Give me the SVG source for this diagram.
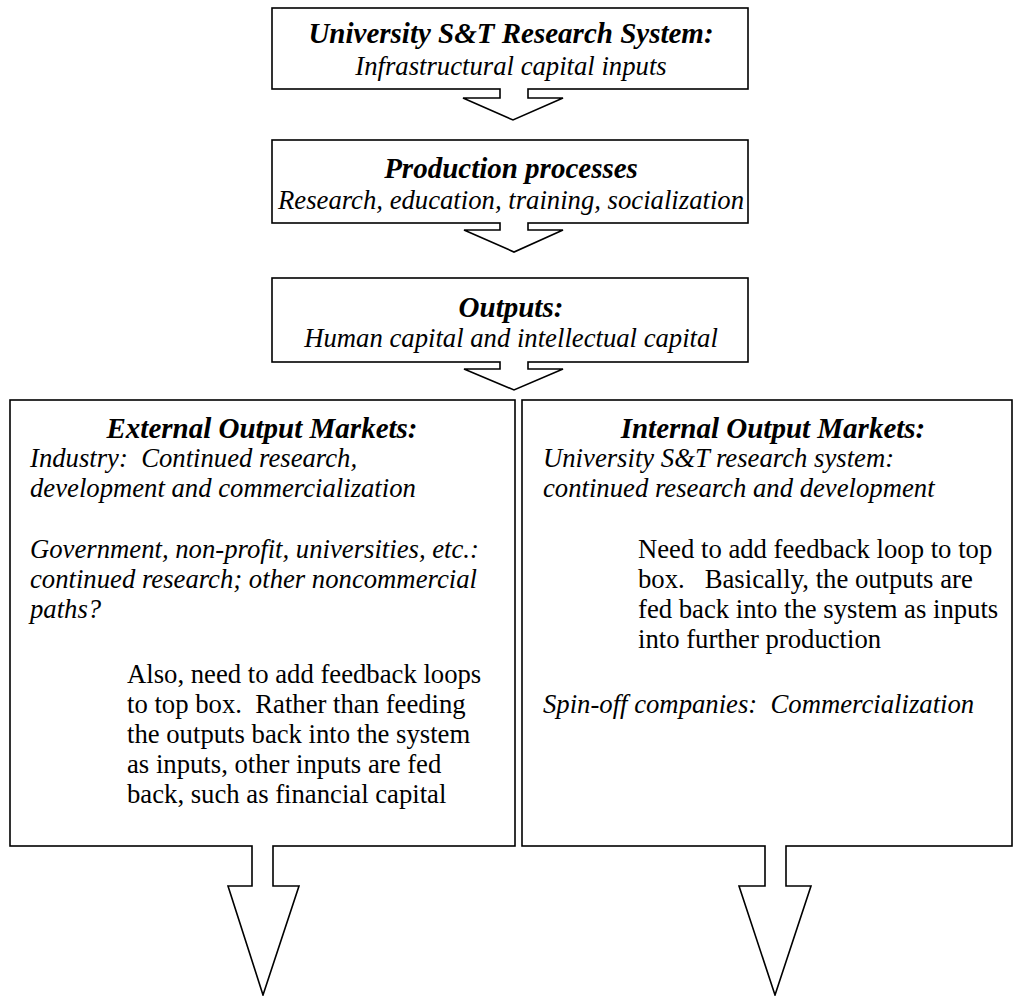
<svg xmlns="http://www.w3.org/2000/svg" width="1014" height="996" viewBox="0 0 1014 996">
<style>
.box{fill:#fff;stroke:#000;stroke-width:1.6}
.arr{fill:#fff;stroke:#000;stroke-width:1.6;stroke-linejoin:miter}
.cover{fill:#fff;stroke:none}
text{font-family:"Liberation Serif","Times New Roman",serif;fill:#000;white-space:pre}
.t{font-size:29px;font-weight:bold;font-style:italic;text-anchor:middle}
.s{font-size:26.7px;font-style:italic;text-anchor:middle}
.i{font-size:26.7px;font-style:italic}
.r{font-size:26.7px}
</style>
<rect width="1014" height="996" fill="#fff"/>
<g id="node-inputs">
<rect class="box" x="272" y="8" width="476" height="81"/>
<text class="t" x="511" y="43">University S&amp;T Research System:</text>
<text class="s" x="511" y="75">Infrastructural capital inputs</text>
</g>
<g id="node-production">
<rect class="box" x="272" y="140" width="476" height="83"/>
<text class="t" x="511" y="178">Production processes</text>
<text class="s" x="511" y="209">Research, education, training, socialization</text>
</g>
<g id="node-outputs">
<rect class="box" x="272" y="278" width="476" height="84"/>
<text class="t" x="511" y="317">Outputs:</text>
<text class="s" x="511" y="347">Human capital and intellectual capital</text>
</g>
<g id="node-external">
<rect class="box" x="10" y="400" width="505" height="446"/>
<text class="t" x="262" y="438">External Output Markets:</text>
<text class="i" x="30" y="467">Industry:  Continued research,</text>
<text class="i" x="30" y="497">development and commercialization</text>
<text class="i" x="30" y="558">Government, non-profit, universities, etc.:</text>
<text class="i" x="30" y="588">continued research; other noncommercial</text>
<text class="i" x="30" y="618">paths?</text>
<text class="r" x="127" y="683">Also, need to add feedback loops</text>
<text class="r" x="127" y="713">to top box.  Rather than feeding</text>
<text class="r" x="127" y="743">the outputs back into the system</text>
<text class="r" x="127" y="773">as inputs, other inputs are fed</text>
<text class="r" x="127" y="803">back, such as financial capital</text>
</g>
<g id="node-internal">
<rect class="box" x="522" y="400" width="490" height="446"/>
<text class="t" x="773" y="438">Internal Output Markets:</text>
<text class="i" x="543" y="467">University S&amp;T research system:</text>
<text class="i" x="543" y="497">continued research and development</text>
<text class="r" x="638" y="558">Need to add feedback loop to top</text>
<text class="r" x="638" y="588">box.   Basically, the outputs are</text>
<text class="r" x="638" y="618">fed back into the system as inputs</text>
<text class="r" x="638" y="648">into further production</text>
<text class="i" x="543" y="713">Spin-off companies:  Commercialization</text>
</g>
<g id="connectors">
<rect class="cover" x="500.8" y="86" width="26.4" height="6"/>
<polyline class="arr" points="500,89 500,98 463,98 513,120 563,98 528,98 528,89"/>
<rect class="cover" x="500.8" y="220" width="26.4" height="6"/>
<polyline class="arr" points="500,223 500,230 464,230 514,252 563,230 528,230 528,223"/>
<rect class="cover" x="500.8" y="359" width="26.4" height="6"/>
<polyline class="arr" points="500,362 500,369 464,369 514,390 563,369 528,369 528,362"/>
<rect class="cover" x="252.8" y="843" width="19.4" height="6"/>
<polyline class="arr" points="252,846 252,886 228,886 263,995 299,886 273,886 273,846"/>
<rect class="cover" x="765.8" y="843" width="19.4" height="6"/>
<polyline class="arr" points="765,846 765,886 739,886 775,995 811,886 786,886 786,846"/>
</g>
</svg>
